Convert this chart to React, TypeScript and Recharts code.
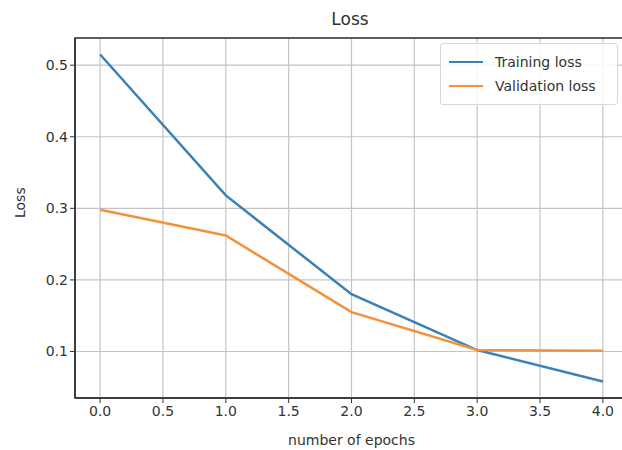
import { CartesianGrid, Line, LineChart, ReferenceArea, XAxis, YAxis } from "recharts";

const TRAIN_COLOR = "#3a82b6"; // matplotlib C0, slightly softened
const VAL_COLOR = "#f2923a";   // matplotlib C1
const GRID = "#c4c4c4";
const INK = "#333333";
const FONT = "'DejaVu Sans', sans-serif";

const epochs = [0, 1, 2, 3, 4];
const trainingLoss = [0.515, 0.318, 0.18, 0.102, 0.058];
const validationLoss = [0.298, 0.262, 0.155, 0.102, 0.101];
const xTicks = [0, 0.5, 1, 1.5, 2, 2.5, 3, 3.5, 4];
const yTicks = [0.1, 0.2, 0.3, 0.4, 0.5];

const data = epochs.map((e, i) => ({ epoch: e, train: trainingLoss[i], val: validationLoss[i] }));

const tick = { fill: INK, fontSize: 14, fontFamily: FONT };

// drawn as an overlay so the chart does not reserve room for it
function LegendBox() {
  const rows = [
    { label: "Training loss", color: TRAIN_COLOR },
    { label: "Validation loss", color: VAL_COLOR },
  ];
  return (
    <div
      style={{
        position: "absolute",
        top: 43,
        left: 440,
        width: 160,
        background: "rgba(255,255,255,0.85)",
        border: "1px solid #d8d8d8",
        borderRadius: 3,
        padding: "6px 8px",
        fontFamily: FONT,
        fontSize: 14,
        color: INK,
      }}
    >
      {rows.map((r) => (
        <div key={r.label} style={{ display: "flex", alignItems: "center", height: 24 }}>
          <span style={{ display: "inline-block", width: 34, height: 2.5, background: r.color, marginRight: 12 }} />
          {r.label}
        </div>
      ))}
    </div>
  );
}

export default function App() {
  return (
    <div style={{ position: "fixed", left: 0, top: 0, width: 622, height: 450, overflow: "hidden", background: "#fff" }}>
      <div style={{ position: "absolute", top: 9, width: 700, left: 0, textAlign: "center", fontFamily: FONT, fontSize: 17, color: INK }}>
        Loss
      </div>
      <LineChart width={630} height={450} data={data} margin={{ top: 38, right: 2, left: 0, bottom: 0 }}>
        <CartesianGrid stroke={GRID} strokeWidth={1.2} />
        <XAxis
          dataKey="epoch"
          type="number"
          domain={[-0.2, 4.2]}
          ticks={xTicks}
          tickFormatter={(v: number) => v.toFixed(1)}
          tick={tick}
          tickSize={5}
          tickMargin={3}
          tickLine={{ stroke: INK }}
          axisLine={{ stroke: INK, strokeWidth: 1.5 }}
          height={52}
          allowDataOverflow
          label={{ value: "number of epochs", position: "insideBottom", offset: 5, fill: INK, fontSize: 14, fontFamily: FONT }}
        />
        <YAxis
          type="number"
          domain={[0.035, 0.538]}
          ticks={yTicks}
          tickFormatter={(v: number) => v.toFixed(1)}
          tick={tick}
          tickSize={5}
          tickLine={{ stroke: INK }}
          axisLine={{ stroke: INK, strokeWidth: 1.5 }}
          width={75}
          allowDataOverflow
          label={{ value: "Loss", angle: -90, position: "insideLeft", offset: 20, fill: INK, fontSize: 14, fontFamily: FONT }}
        />
        <ReferenceArea x1={-0.2} x2={4.2} y1={0.035} y2={0.538} fill="none" stroke={INK} strokeWidth={1.5} />
        <Line dataKey="train" name="Training loss" stroke={TRAIN_COLOR} strokeWidth={2.5} dot={false} isAnimationActive={false} />
        <Line dataKey="val" name="Validation loss" stroke={VAL_COLOR} strokeWidth={2.5} dot={false} isAnimationActive={false} />
      </LineChart>
      <LegendBox />
    </div>
  );
}
